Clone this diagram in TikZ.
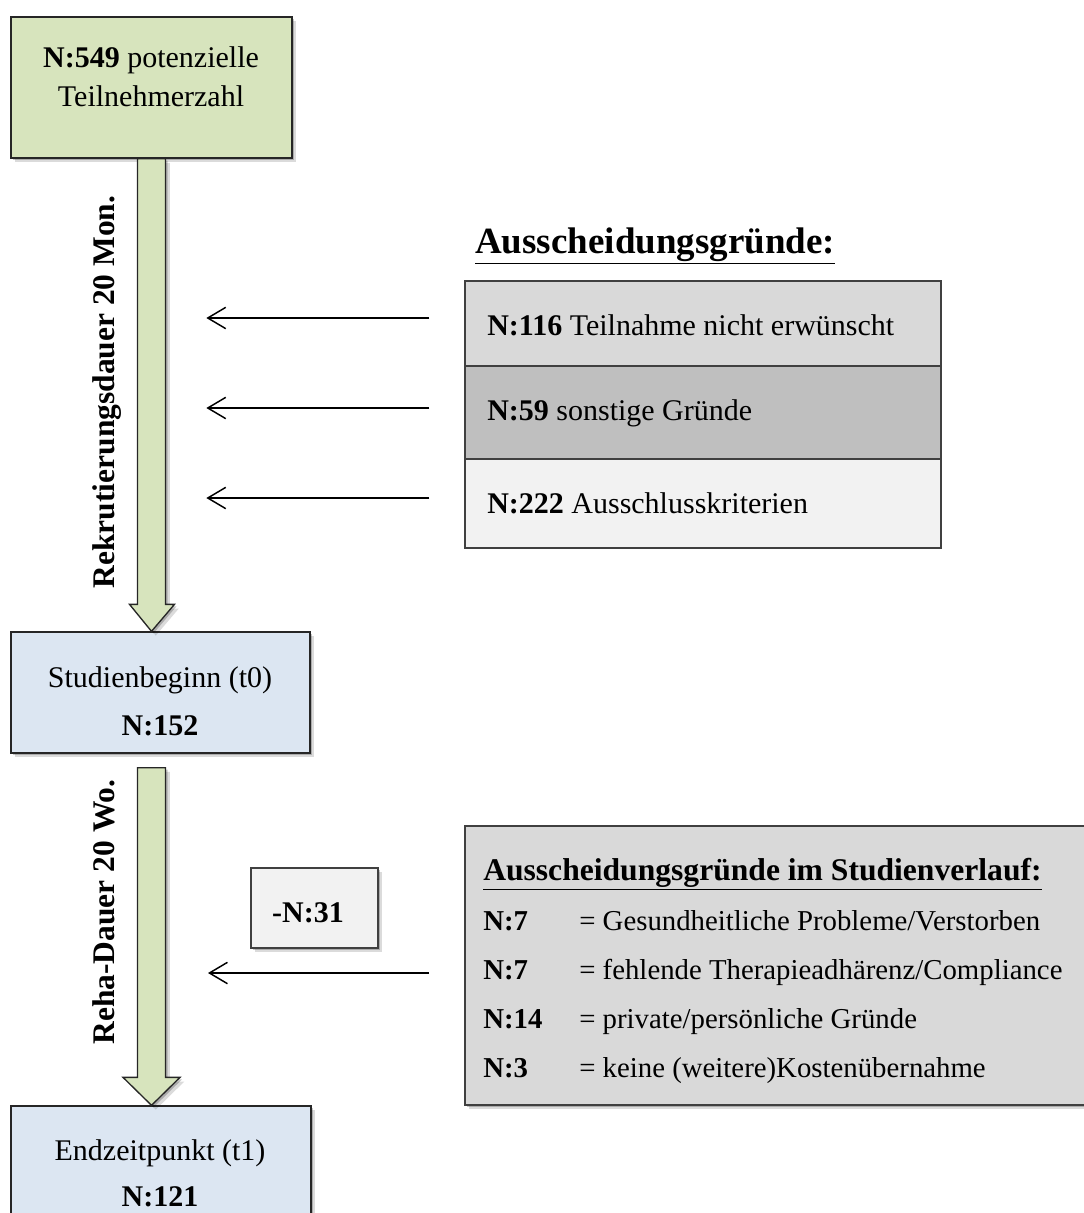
\documentclass[tikz,border=0pt]{standalone}
\usepackage{fontspec}
\setmainfont{Liberation Serif}
\usetikzlibrary{shadows,arrows.meta,calc}
\definecolor{boxgreen}{HTML}{D7E4BD}
\definecolor{boxblue}{HTML}{DCE6F2}
\definecolor{grayA}{HTML}{D9D9D9}
\definecolor{grayB}{HTML}{BFBFBF}
\definecolor{grayC}{HTML}{F2F2F2}
\definecolor{edge}{HTML}{262626}
\definecolor{edgegray}{HTML}{404040}
\tikzset{
  softshadow/.style={
    drop shadow={shadow xshift=1.5pt,shadow yshift=-1.5pt,opacity=.22,fill=black},
    drop shadow={shadow xshift=3.2pt,shadow yshift=-3.2pt,opacity=.14,fill=black}},
  box/.style={draw=edge, line width=1pt, rectangle, inner sep=0pt},
  txt/.style={anchor=base, inner sep=0pt, font=\fontsize{22.5}{27}\selectfont},
  listtxt/.style={txt, anchor=base west, font=\fontsize{21.6}{26}\selectfont},
  sidelabel/.style={txt, rotate=90, font=\fontsize{23.6}{28}\selectfont\bfseries},
  bigarrow/.style={draw=edge, fill=boxgreen, line width=1pt, line join=miter, softshadow},
  thinarrow/.style={draw=black, line width=1.1pt,
    -{Straight Barb[length=13.5pt,width=16pt,line width=1.1pt]}},
}
\begin{document}
\begin{tikzpicture}[x=0.75pt,y=-0.75pt]
\useasboundingbox (0,0) rectangle (1083,1213);

% main boxes
\node[box, fill=boxgreen, softshadow, minimum width=210.75pt, minimum height=105.75pt] (top) at (151.5,87.5) {};
\node[box, fill=boxblue, softshadow, minimum width=224.25pt, minimum height=90.75pt] (sb) at (160.5,692.5) {};
\node[box, fill=boxblue, softshadow, minimum width=225pt, minimum height=90pt] (ez) at (161,1166) {};

% exclusion stack
\node[box, draw=edgegray, fill=grayA, minimum width=357pt, minimum height=63.75pt] (r1) at (703,323.5) {};
\node[box, draw=edgegray, fill=grayB, minimum width=357pt, minimum height=69.75pt] (r2) at (703,412.5) {};
\node[box, draw=edgegray, fill=grayC, minimum width=357pt, minimum height=66.75pt] (r3) at (703,503.5) {};

% small and large boxes lower part
\node[box, draw=edgegray, fill=grayC, softshadow, minimum width=95.25pt, minimum height=60pt] (n31) at (314.5,908) {};
\node[box, draw=edgegray, fill=grayA, softshadow, minimum width=468.75pt, minimum height=209.25pt] (br) at (777.5,965.5) {};

% block arrows
\draw[bigarrow] ($(top.south)+(-14,0)$) -- ($(top.south |- sb.north)+(-14,-27)$)
  -- ($(top.south |- sb.north)+(-22,-27)$) -- (top.south |- sb.north)
  -- ($(top.south |- sb.north)+(23,-27)$) -- ($(top.south |- sb.north)+(14,-27)$)
  -- ($(top.south)+(14,0)$) -- cycle;
\draw[bigarrow] ($(top.south |- sb.south)+(-14,14)$) -- ($(top.south |- ez.north)+(-14,-28)$)
  -- ($(top.south |- ez.north)+(-28.5,-28)$) -- (top.south |- ez.north)
  -- ($(top.south |- ez.north)+(28.5,-28)$) -- ($(top.south |- ez.north)+(14,-28)$)
  -- ($(top.south |- sb.south)+(14,14)$) -- cycle;

% thin arrows
\coordinate (s1) at ($(r1.west)+(-35,-5.5)$);
\coordinate (e1) at ($(r1.west)+(-258,-5.5)$);
\coordinate (s2) at ($(r2.west)+(-35,-4.5)$);
\coordinate (e2) at ($(r2.west)+(-258,-4.5)$);
\coordinate (s3) at ($(r3.west)+(-35,-5.5)$);
\coordinate (e3) at ($(r3.west)+(-258,-5.5)$);
\coordinate (s4) at (429,973);
\coordinate (e4) at (208,973);
\draw[thinarrow] (s1) -- (e1);
\draw[thinarrow] (s2) -- (e2);
\draw[thinarrow] (s3) -- (e3);
\draw[thinarrow] (s4) -- (e4);

% texts
\node[txt] (ttop1) at (151,68) {\textbf{N:549} potenzielle};
\node[txt] (ttop2) at (151,106) {Teilnehmerzahl};
\node[txt] (tsb1) at (160,687) {Studienbeginn (t0)};
\node[txt] (tsb2) at (160,735) {\textbf{N:152}};
\node[txt] (tez1) at (160,1160) {Endzeitpunkt (t1)};
\node[txt] (tez2) at (160,1206) {\textbf{N:121}};
\node[sidelabel] (lab1) at (114,392) {Rekrutierungsdauer 20 Mon.};
\node[sidelabel] (lab2) at (114,912) {Reha-Dauer 20 Wo.};

\node[txt, anchor=base west, font=\fontsize{27.75}{32}\selectfont] (title1) at (475,253) {\textbf{\underline{Ausscheidungsgründe:}}};
\node[txt, anchor=base west] (tr1) at (487,335) {\textbf{N:116} Teilnahme nicht erwünscht};
\node[txt, anchor=base west] (tr2) at (487,420) {\textbf{N:59} sonstige Gründe};
\node[txt, anchor=base west] (tr3) at (487,513) {\textbf{N:222} Ausschlusskriterien};

\node[txt] (tn31) at (308,922) {\textbf{-N:31}};

\node[txt, anchor=base west, font=\fontsize{23.7}{28}\selectfont] (title2) at (483,880) {\textbf{\underline{Ausscheidungsgründe im Studienverlauf:}}};
\node[listtxt] (la) at (483,930) {\textbf{N:7}};
\node[listtxt] (lb) at (483,979) {\textbf{N:7}};
\node[listtxt] (lc) at (483,1028) {\textbf{N:14}};
\node[listtxt] (ld) at (483,1077) {\textbf{N:3}};
\node[listtxt] (ra) at (579,930) {= Gesundheitliche Probleme/Verstorben};
\node[listtxt] (rb) at (579,979) {= fehlende Therapieadhärenz/Compliance};
\node[listtxt] (rc) at (579,1028) {= private/persönliche Gründe};
\node[listtxt] (rd) at (579,1077) {= keine (weitere)Kostenübernahme};
\end{tikzpicture}
\end{document}
